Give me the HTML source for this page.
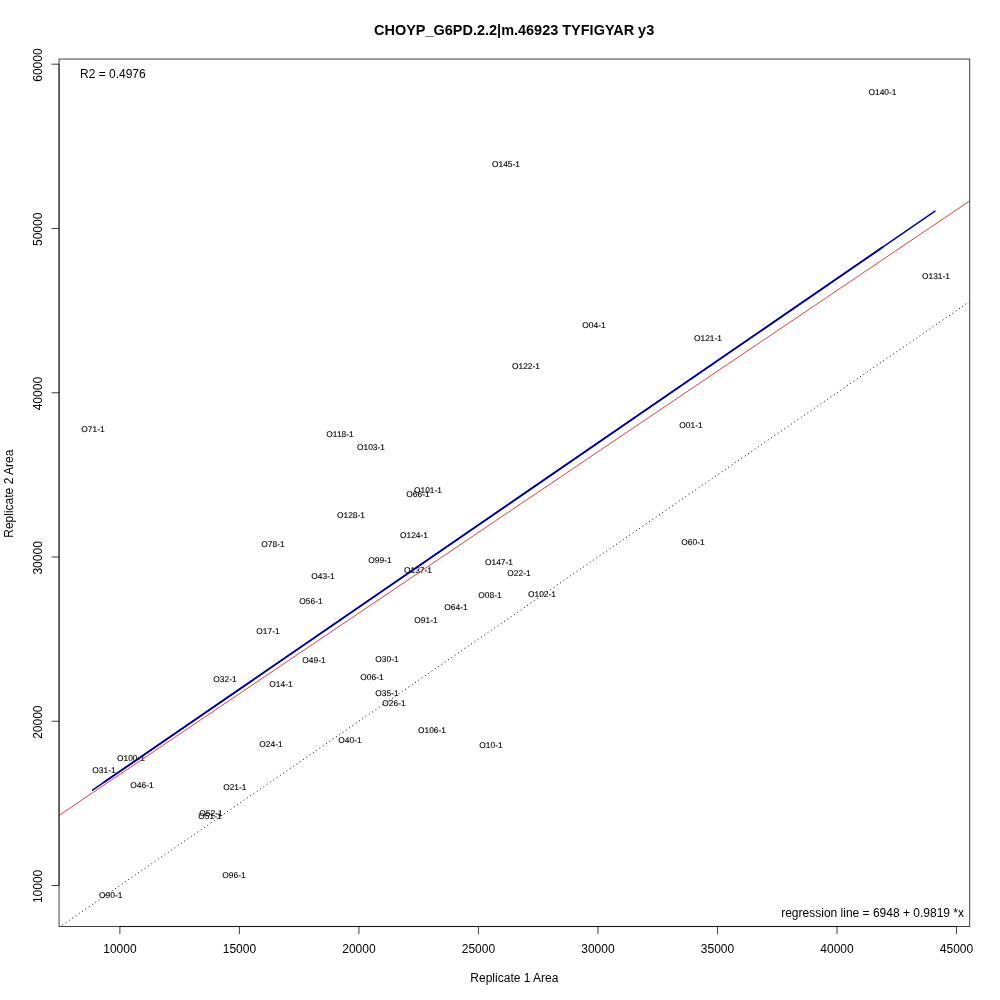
<!DOCTYPE html>
<html><head><meta charset="utf-8"><title>CHOYP_G6PD.2.2|m.46923 TYFIGYAR y3</title>
<style>
html,body{margin:0;padding:0;background:#fff;}
body{width:1000px;height:1000px;overflow:hidden;}
svg{display:block;font-family:"Liberation Sans",Arial,Helvetica,sans-serif;}
.pt{font-size:8.4px;fill:#000;text-anchor:middle;stroke:#000;stroke-width:0.12px;text-rendering:geometricPrecision;}
.ax{font-size:12px;fill:#000;text-anchor:middle;}
.ttl{font-size:14.48px;font-weight:bold;fill:#000;text-anchor:middle;}
</style></head><body>
<svg width="1000" height="1000" viewBox="0 0 1000 1000">
<rect x="0" y="0" width="1000" height="1000" fill="#fff"/>
<defs><clipPath id="pc"><rect x="59.04" y="59.04" width="910.72" height="867.52"/></clipPath></defs>

<g class="pt">
<text x="882.5" y="95.0">O140-1</text>
<text x="506.0" y="167.0">O145-1</text>
<text x="936.0" y="279.0">O131-1</text>
<text x="594.0" y="328.0">O04-1</text>
<text x="708.0" y="341.0">O121-1</text>
<text x="526.0" y="369.0">O122-1</text>
<text x="691.0" y="428.0">O01-1</text>
<text x="93.0" y="432.0">O71-1</text>
<text x="340.0" y="437.0">O118-1</text>
<text x="371.0" y="450.0">O103-1</text>
<text x="428.0" y="493.0">O101-1</text>
<text x="418.0" y="497.0">O66-1</text>
<text x="351.0" y="518.0">O128-1</text>
<text x="414.0" y="538.0">O124-1</text>
<text x="693.0" y="545.0">O60-1</text>
<text x="273.0" y="547.0">O78-1</text>
<text x="380.0" y="563.0">O99-1</text>
<text x="499.0" y="565.0">O147-1</text>
<text x="418.0" y="573.0">O137-1</text>
<text x="519.0" y="576.0">O22-1</text>
<text x="323.0" y="579.0">O43-1</text>
<text x="490.0" y="598.0">O08-1</text>
<text x="542.0" y="597.0">O102-1</text>
<text x="311.0" y="604.0">O56-1</text>
<text x="456.0" y="610.0">O64-1</text>
<text x="426.0" y="623.0">O91-1</text>
<text x="268.0" y="634.0">O17-1</text>
<text x="387.0" y="662.0">O30-1</text>
<text x="314.0" y="663.0">O49-1</text>
<text x="372.0" y="680.0">O06-1</text>
<text x="225.0" y="682.0">O32-1</text>
<text x="281.0" y="687.0">O14-1</text>
<text x="387.0" y="696.0">O35-1</text>
<text x="394.0" y="706.0">O26-1</text>
<text x="432.0" y="733.0">O106-1</text>
<text x="350.0" y="743.0">O40-1</text>
<text x="271.0" y="747.0">O24-1</text>
<text x="491.0" y="748.0">O10-1</text>
<text x="131.0" y="761.0">O100-1</text>
<text x="104.0" y="773.0">O31-1</text>
<text x="142.0" y="788.0">O46-1</text>
<text x="234.8" y="790.0">O21-1</text>
<text x="211.0" y="816.0">O52-1</text>
<text x="210.0" y="819.0">O51-1</text>
<text x="234.0" y="878.0">O96-1</text>
<text x="110.7" y="898.0">O90-1</text>
</g>
<g clip-path="url(#pc)" fill="none">
<line x1="59.04" y1="815.41" x2="969.76" y2="200.89" stroke="#d93636" stroke-width="0.95"/>
<line x1="59.04" y1="927.32" x2="969.76" y2="301.48" stroke="#000" stroke-width="1" stroke-dasharray="1 3"/>
<line x1="92.60" y1="790.10" x2="935.00" y2="211.20" stroke="#0000aa" stroke-width="1.5" stroke-linecap="round"/>
<line x1="104.00" y1="782.27" x2="882.50" y2="247.28" stroke="#0000aa" stroke-width="1.75" stroke-linecap="round"/>
</g>
<rect x="59.04" y="59.04" width="910.72" height="867.52" fill="none" stroke="#000" stroke-width="0.75"/>
<g stroke="#000" stroke-width="0.75" fill="none">
<line x1="119.90" y1="926.56" x2="956.50" y2="926.56"/>
<line x1="119.90" y1="926.56" x2="119.90" y2="934.06"/>
<line x1="239.41" y1="926.56" x2="239.41" y2="934.06"/>
<line x1="358.93" y1="926.56" x2="358.93" y2="934.06"/>
<line x1="478.44" y1="926.56" x2="478.44" y2="934.06"/>
<line x1="597.96" y1="926.56" x2="597.96" y2="934.06"/>
<line x1="717.47" y1="926.56" x2="717.47" y2="934.06"/>
<line x1="836.99" y1="926.56" x2="836.99" y2="934.06"/>
<line x1="956.50" y1="926.56" x2="956.50" y2="934.06"/>
<line x1="59.04" y1="885.50" x2="59.04" y2="64.20"/>
<line x1="59.04" y1="885.50" x2="51.54" y2="885.50"/>
<line x1="59.04" y1="721.24" x2="51.54" y2="721.24"/>
<line x1="59.04" y1="556.98" x2="51.54" y2="556.98"/>
<line x1="59.04" y1="392.72" x2="51.54" y2="392.72"/>
<line x1="59.04" y1="228.46" x2="51.54" y2="228.46"/>
<line x1="59.04" y1="64.20" x2="51.54" y2="64.20"/>
</g>
<g class="ax">
<text x="119.90" y="953">10000</text>
<text x="239.41" y="953">15000</text>
<text x="358.93" y="953">20000</text>
<text x="478.44" y="953">25000</text>
<text x="597.96" y="953">30000</text>
<text x="717.47" y="953">35000</text>
<text x="836.99" y="953">40000</text>
<text x="956.50" y="953">45000</text>
<text transform="translate(42.1,886.40) rotate(-90)">10000</text>
<text transform="translate(42.1,722.14) rotate(-90)">20000</text>
<text transform="translate(42.1,557.88) rotate(-90)">30000</text>
<text transform="translate(42.1,393.62) rotate(-90)">40000</text>
<text transform="translate(42.1,229.36) rotate(-90)">50000</text>
<text transform="translate(42.1,65.10) rotate(-90)">60000</text>
<text x="514.4" y="982">Replicate 1 Area</text>
<text transform="translate(12.9,493.7) rotate(-90)">Replicate 2 Area</text>
<text x="80" y="77.8" style="text-anchor:start">R2 = 0.4976</text>
<text x="964" y="916.6" style="text-anchor:end">regression line = 6948 + 0.9819 *x</text>
</g>
<text class="ttl" x="514.15" y="35">CHOYP_G6PD.2.2|m.46923 TYFIGYAR y3</text>
</svg></body></html>
